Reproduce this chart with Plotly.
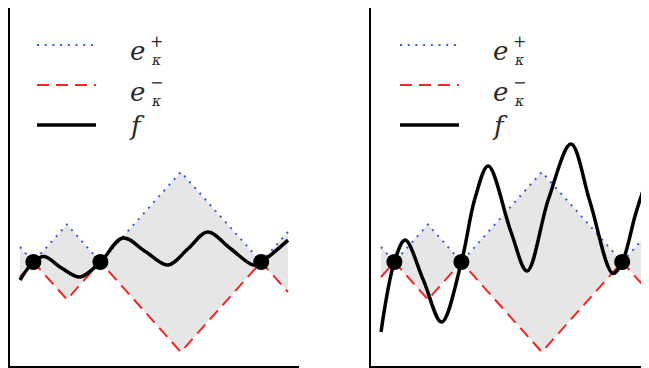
import plotly.graph_objects as go

W, H = 649, 368
OFF = 8  # page body margin in the browser

# ---- data ----
env_x = [0, 0.5, 1.75, 3, 6, 9, 10]
env_upper = [0.5, 0, 1.25, 0, 3, 0, 1]
env_lower = [-0.5, 0, -1.25, 0, -3, 0, -1]
sample_x = [0.5, 3, 9]
sample_y = [0, 0, 0]

f1_x = [0, 0.5, 0.9, 1.55, 2.24, 3.0, 3.84, 4.68, 5.52, 6.28, 7.0, 7.85, 8.7, 9.0, 10]
f1_y = [-0.6, 0, 0.18, -0.2, -0.5, 0, 0.8, 0.35, -0.1, 0.45, 1.0, 0.45, -0.1, 0, 0.73]

f2_x = [0, 0.5, 0.9, 1.58, 2.26, 3.0, 3.5, 4.0, 4.85, 5.45, 6.25, 7.09, 7.8, 8.65, 9.0, 9.5, 10]
f2_y = [-2.33, 0, 0.73, -0.6, -2.0, 0, 2.1, 3.2, 1.0, -0.3, 2.1, 3.93, 2.0, -0.38, 0, 1.6, 2.97]

legend_labels = ["e", "e", "f"]
legend_sups = ["+", "−", ""]
legend_subs = ["κ", "κ", ""]

BLUE = "#3a5bd0"
RED = "#ee2626"
GRAY = "#e6e6e6"
TXT = "#2a2a2a"
SERIF = "DejaVu Serif"

def px(x):
    return (x - OFF) / W

def py(y):
    return 1 - (y - OFF) / H

fig = go.Figure()

panels = [("x", "y", f1_x, f1_y), ("x2", "y2", f2_x, f2_y)]
for xa, ya, fx, fy in panels:
    fig.add_trace(go.Scatter(
        x=env_x + env_x[::-1], y=env_upper + env_lower[::-1],
        fill="toself", fillcolor=GRAY, line=dict(width=0), mode="lines",
        xaxis=xa, yaxis=ya, hoverinfo="skip", showlegend=False))
    fig.add_trace(go.Scatter(
        x=env_x, y=env_upper, mode="lines",
        line=dict(color=BLUE, width=2, dash="2px,5.7px"),
        xaxis=xa, yaxis=ya, showlegend=False))
    fig.add_trace(go.Scatter(
        x=env_x, y=env_lower, mode="lines",
        line=dict(color=RED, width=2, dash="12px,7px"),
        xaxis=xa, yaxis=ya, showlegend=False))
    fig.add_trace(go.Scatter(
        x=fx, y=fy, mode="lines",
        line=dict(color="black", width=3.5, shape="spline", smoothing=1.0),
        xaxis=xa, yaxis=ya, showlegend=False))
    fig.add_trace(go.Scatter(
        x=sample_x, y=sample_y, mode="markers",
        marker=dict(color="black", size=16),
        xaxis=xa, yaxis=ya, showlegend=False, cliponaxis=False))

ax_common = dict(showline=True, linecolor="black", linewidth=2, showticklabels=False,
                 ticks="", showgrid=False, zeroline=False, mirror=False, fixedrange=True)

XS = 26.8   # px per x unit
YS = 30.0   # px per y unit
y_rng = [-(366 - 262) / YS, (262 - OFF) / YS]
fig.update_layout(
    width=W, height=H,
    margin=dict(l=0, r=0, t=0, b=0),
    paper_bgcolor="white", plot_bgcolor="white",
    xaxis=dict(domain=[px(10), px(299)], range=[-10 / XS, 279 / XS], anchor="y", **ax_common),
    yaxis=dict(domain=[py(366), 1], range=y_rng, anchor="x", **ax_common),
    xaxis2=dict(domain=[px(371), 1], range=[-10 / XS, (W + OFF - 381) / XS], anchor="y2", **ax_common),
    yaxis2=dict(domain=[py(366), 1], range=y_rng, anchor="x2", **ax_common),
)

# custom legend
shapes = []
annotations = []
line_styles = [dict(color=BLUE, width=2, dash="2px,5.7px"),
               dict(color=RED, width=2, dash="12px,7px"),
               dict(color="black", width=3.5)]
line_y = [45, 85, 125]
e_y = [51, 92, 126]
for off in [0, 363]:
    for i in range(3):
        shapes.append(dict(type="line", xref="paper", yref="paper",
                           x0=px(37 + off), x1=px(96 + off), y0=py(line_y[i]), y1=py(line_y[i]),
                           line=line_styles[i]))
        annotations.append(dict(text=legend_labels[i], xref="paper", yref="paper",
                                x=px(137 + off), y=py(e_y[i]), showarrow=False,
                                xanchor="center", yanchor="middle", borderpad=0,
                                font=dict(family=SERIF, size=26, color=TXT, style="italic")))
        if legend_sups[i]:
            annotations.append(dict(text=legend_sups[i], xref="paper", yref="paper",
                                    x=px(156 + off), y=py(e_y[i] - 9), showarrow=False,
                                    xanchor="center", yanchor="middle", borderpad=0,
                                    font=dict(family=SERIF, size=16, color=TXT)))
            annotations.append(dict(text=legend_subs[i], xref="paper", yref="paper",
                                    x=px(156 + off), y=py(e_y[i] + 9), showarrow=False,
                                    xanchor="center", yanchor="middle", borderpad=0,
                                    font=dict(family=SERIF, size=14, color=TXT, style="italic")))

fig.update_layout(shapes=shapes, annotations=annotations)
fig.write_html("out.html")
